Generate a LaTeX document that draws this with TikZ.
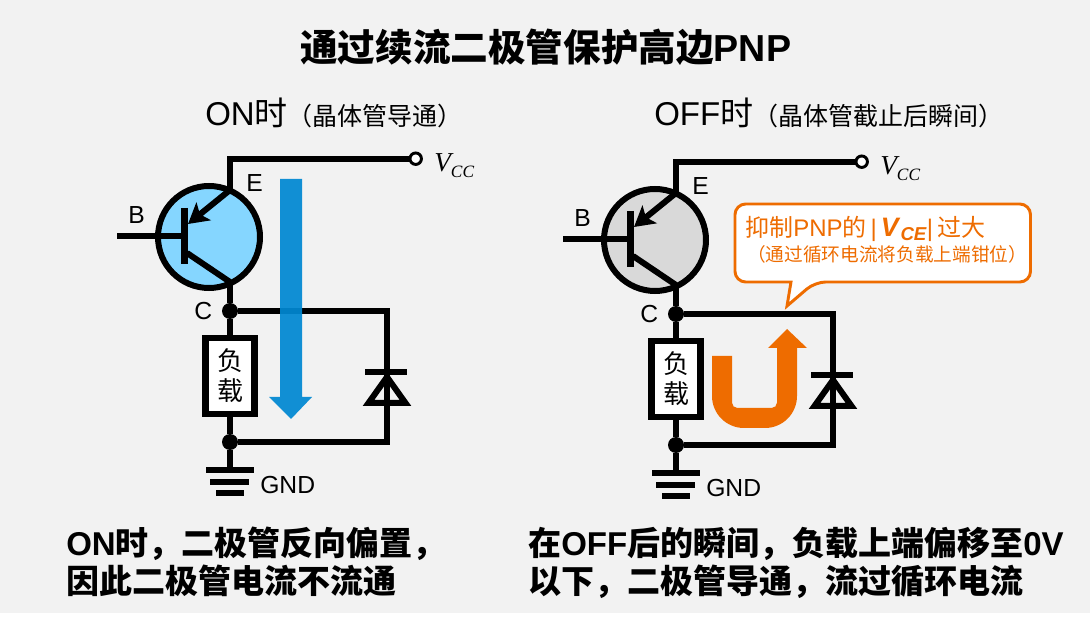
\documentclass[tikz,border=0pt]{standalone}
\usepackage{fontspec}
\setmainfont{Liberation Sans}
\newfontfamily\cjk{Noto Sans CJK SC}
\newfontfamily\serifit{Liberation Serif}
\usetikzlibrary{arrows.meta,
                positioning,
                shapes.geometric}
\definecolor{back_c}{HTML}{F2F2F2}
\definecolor{on_c}{HTML}{85D6FF}
\definecolor{off_c}{HTML}{D9D9D9}
\definecolor{flow_c}{HTML}{0088D2}
\definecolor{loop_c}{HTML}{EE6C00}

% one transistor with load, diode and ground; #1 is the fill of the transistor
\newcommand{\pnpcircuit}[1]{
	\node[pnp, fill=#1] (Q) at (209,237) {};
	\node[terminal] (vcc) at (415.7,158.7) {};
	\node[pinlabel] (vcclabel) at (434,172) {{\fontsize{20.5}{24}\selectfont\serifit\itshape V}\raisebox{-4pt}{\fontsize{13}{13}\selectfont\serifit\itshape CC}};
	\node[loadbox] (load) at (230,376) {\cjk 负\\\cjk 载};
	\node[joint] (jc) at (230,311) {};
	\node[joint] (jg) at (230,442) {};
	\coordinate (pe) at (230,190);
	\coordinate (pc) at (230,282);
	\coordinate (bb) at (184.5,236);
	\coordinate (bin) at (117,236);
	\coordinate (bt) at (184.5,208);
	\coordinate (bl) at (184.5,264);
	\coordinate (et) at (188,224);
	\coordinate (cb) at (187,253);
	\coordinate (dk) at (387,372);
	\coordinate (dt) at (387,311);
	\coordinate (db) at (387,442);
	\coordinate (g0) at (230,470);
	% wires
	\draw[wire] (vcc.west) -| (pe);
	\draw[wire] (pc) -- (jc) -- (load.north);
	\draw[wire] (load.south) -- (jg) -- (g0);
	\draw[wire] (jc) -- (dt) -- (db) -- (jg);
	\draw[wire] (bin) -- (bb);
	\draw[wire] (cb) -- (pc);
	\draw[wire, -{Stealth[length=15pt, width=17pt, inset=3.5pt]}] (pe) -- (et);
	\draw[wire, line width=4.9pt] (bt) -- (bl);
	% diode
	\draw[wire] (365,372) -- (dk) -- (407,372);
	\draw[wire, miter limit=10] (387,377) -- (368.5,403) -- (405.5,403) -- cycle;
	% ground
	\draw[wire, line width=5.2pt] (206,470) -- (g0) -- (254,470);
	\draw[wire, line width=5.2pt] (210,482) -- (249,482);
	\draw[wire, line width=5.2pt] (216,493) -- (244,493);
	% pins
	\node[pinlabel] (lb) at (128,224) {B};
	\node[pinlabel] (le) at (246,192) {E};
	\node[pinlabel] (lc) at (194,320) {C};
	\node[pinlabel] (lg) at (260,494) {GND};
}

\begin{document}
\begin{tikzpicture}[
			x=0.75pt, y=-0.75pt,
			wire/.style = {line width=4.5pt},
			pnp/.style = {circle, draw, line width=4.5pt, minimum size=76.5pt, inner sep=0pt},
			terminal/.style = {circle, draw, fill=white, line width=2.2pt, minimum size=8.6pt, inner sep=0pt},
			joint/.style = {circle, fill=black, minimum size=12pt, inner sep=0pt},
			loadbox/.style = {rectangle, draw, fill=white, line width=4.9pt, minimum width=36.4pt, minimum height=57pt,
				inner sep=0pt, align=center, font=\fontsize{19.5}{22.5}\selectfont},
			pinlabel/.style = {anchor=base west, inner sep=0pt, font=\fontsize{18.5}{22}\selectfont},
			titletext/.style = {anchor=base west, inner sep=0pt, font=\fontsize{28.2}{34}\selectfont\bfseries},
			headtext/.style = {anchor=base west, inner sep=0pt, font=\fontsize{24.75}{30}\selectfont},
			bodytext/.style = {anchor=base west, inner sep=0pt, font=\fontsize{24.75}{30}\selectfont\bfseries},
			notetext/.style = {anchor=base west, inner sep=0pt, text=loop_c},
			]
	% background
	\useasboundingbox (0,0) rectangle (1090,623);
	\fill[back_c] (0,0) rectangle (1090,613);
	% texts
	\node[titletext] (title) at (300,62) {{\cjk 通过续流二极管保护高边}PNP};
	\node[headtext] (headon) at (205,125.5) {ON{\cjk 时}\fontsize{18.75}{22}\selectfont\cjk （晶体管导通）};
	\node[headtext] (headoff) at (654,125.5) {OFF{\cjk 时}\fontsize{18.75}{22}\selectfont\cjk （晶体管截止后瞬间）};
	\node[bodytext] (on1) at (66,556) {ON{\cjk 时，二极管反向偏置，}};
	\node[bodytext] (on2) at (66,594) {\cjk 因此二极管电流不流通};
	\node[bodytext] (off1) at (528,556) {{\cjk 在}OFF{\cjk 后的瞬间，负载上端偏移至}0V};
	\node[bodytext] (off2) at (528,594) {\cjk 以下，二极管导通，流过循环电流};
	% left
	\begin{scope}[name prefix=l]
		\pnpcircuit{on_c}
	\end{scope}
	\path[fill=flow_c, opacity=0.93] (280,179) -- (302,179) -- (302,397) -- (312,397) -- (291,419) -- (269,397) -- (280,397) -- cycle;
	% right
	\begin{scope}[shift={(446,3)}, name prefix=r]
		\pnpcircuit{off_c}
	\end{scope}
	% current loop
	\fill[loop_c] (712,356) [rounded corners=24pt] -- (712,428) -- (797,428) [sharp corners] -- (797,348) -- (807,348) -- (787,329) -- (768,348) -- (777,348)
		[rounded corners=4pt] -- (777,408) -- (732,408) [sharp corners] -- (732,356) -- cycle;
	% note
	\draw[loop_c, fill=white, line width=2.2pt, rounded corners=8pt] (735,204) -- (1030.5,204) -- (1030.5,282) -- (815,282) [sharp corners] -- (787,306) -- (791,282) [rounded corners=8pt] -- (735,282) -- cycle;
	\node[notetext, font=\fontsize{18}{22}\selectfont] (note1) at (745,237) {{\cjk 抑制}PNP{\cjk 的}\,|\,\textbf{{\fontsize{20}{22}\selectfont\textit{V}}\raisebox{-3pt}{\fontsize{14}{14}\selectfont\textit{CE}}}|\,{\cjk 过大}};
	\node[notetext, font=\fontsize{14}{18}\selectfont] (note2) at (747,261.5) {\cjk （通过循环电流将负载上端钳位）};
\end{tikzpicture}
\end{document}
